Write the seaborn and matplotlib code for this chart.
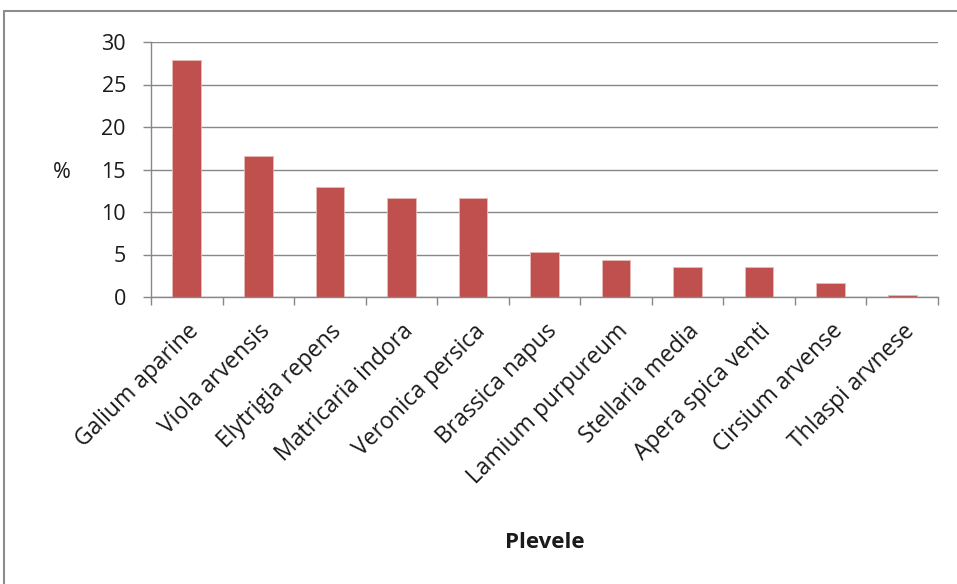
import matplotlib
matplotlib.use("Agg")
import matplotlib.pyplot as plt
import seaborn as sns
import pandas as pd
from matplotlib.patches import Rectangle

species = ["Galium aparine", "Viola arvensis", "Elytrigia repens", "Matricaria indora",
           "Veronica persica", "Brassica napus", "Lamium purpureum", "Stellaria media",
           "Apera spica venti", "Cirsium arvense", "Thlaspi arvnese"]
percent = [27.9, 16.6, 13.0, 11.7, 11.7, 5.3, 4.4, 3.5, 3.5, 1.7, 0.2]
y_ticks = [0, 5, 10, 15, 20, 25, 30]

df = pd.DataFrame({"species": species, "percent": percent})

sns.set_theme(style="white")
plt.rcParams["font.family"] = ["Open Sans", "DejaVu Sans"]

fig = plt.figure(figsize=(9.57, 5.84), dpi=100)
W, H = 957, 584
ax = fig.add_axes([151 / W, 1 - 297 / H, (938 - 151) / W, (297 - 42) / H])

sns.barplot(data=df, x="species", y="percent", color="#C0504D", saturation=1,
            width=0.4, ax=ax, edgecolor="#E6B9B8", linewidth=0.6)

grid_c = "#888888"
text_c = "#1a1a1a"
ax.set_ylim(0, 30)
ax.set_xlim(-0.5, len(species) - 0.5)
ax.set_yticks(y_ticks)
ax.set_yticklabels([str(v) for v in y_ticks], fontsize=15.5, color=text_c)
ax.yaxis.grid(True, color=grid_c, linewidth=1)
ax.set_axisbelow(True)
ax.tick_params(axis="y", length=6, width=1, color=grid_c, pad=12, left=True)

ax.set_xticks(range(len(species)))
ax.set_xticklabels(species, rotation=45, ha="right", rotation_mode="anchor",
                   fontsize=16.5, color=text_c)
ax.set_xticks([i - 0.5 for i in range(len(species) + 1)], minor=True)
ax.tick_params(axis="x", which="major", length=0, pad=16)
ax.tick_params(axis="x", which="minor", length=6, width=1, color=grid_c, bottom=True)

for s in ["top", "right"]:
    ax.spines[s].set_visible(False)
for s in ["left", "bottom"]:
    ax.spines[s].set_color(grid_c)
    ax.spines[s].set_linewidth(1)

ax.set_ylabel("%", rotation=0, fontsize=15.5, color=text_c, va="center", ha="center")
ax.yaxis.set_label_coords((62 - 151) / (938 - 151), (297 - 172) / (297 - 42))
ax.set_xlabel("")
fig.text(545 / W, 1 - 543 / H, "Plevele", ha="center", va="center",
         fontsize=16, fontweight="bold", color=text_c)

# outer chart frame
fig.patches.append(Rectangle((4 / W, -0.1), 1.2, 1 - 11 / H + 0.1,
                             transform=fig.transFigure, fill=False,
                             edgecolor="#8C8C8C", linewidth=1.5))

fig.savefig("out.png", dpi=100)
